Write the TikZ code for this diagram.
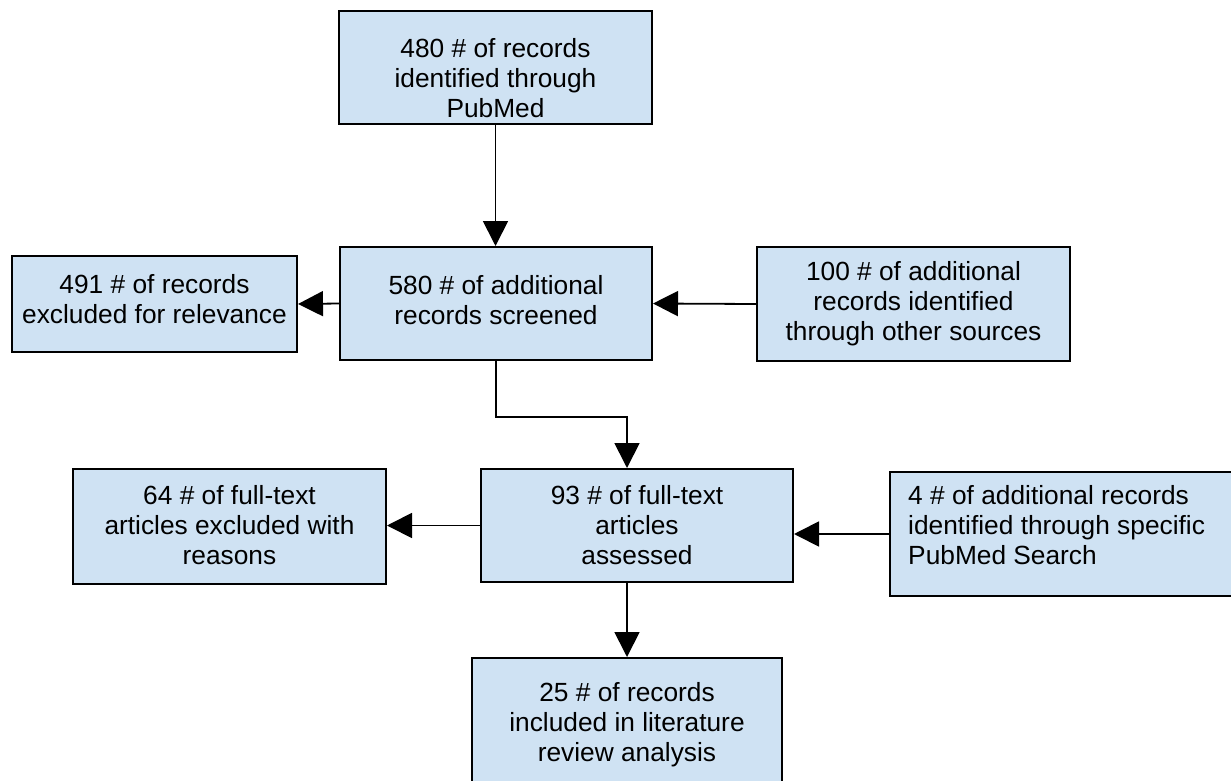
\documentclass[tikz,border=0pt]{standalone}
\usepackage{fontspec}
\setmainfont{Liberation Sans}
\usetikzlibrary{arrows.meta}
\definecolor{boxfill}{RGB}{207,226,243}
\tikzset{
  box/.style={draw=black, line width=2pt, fill=boxfill, inner sep=0pt},
  txt/.style={align=center, font=\fontsize{26.3}{30}\selectfont, inner sep=0pt},
  arr/.style={draw=black, line width=1.8pt, -{Triangle[length=25pt,width=25pt]}},
}
\begin{document}
\begin{tikzpicture}[x=1pt,y=-1pt]
\useasboundingbox (0,0) rectangle (1231,781);
\clip (0,0) rectangle (1231,781);
\fill[white] (0,0) rectangle (1231,781);
% boxes
\node[box, minimum width=313pt, minimum height=113pt] (b1) at (495.5,67.5) {};
\node[box, minimum width=285pt, minimum height=96pt] (b2) at (154.5,304) {};
\node[box, minimum width=312pt, minimum height=113pt] (b3) at (496,303.5) {};
\node[box, minimum width=313pt, minimum height=114pt] (b4) at (913.5,304) {};
\node[box, minimum width=313pt, minimum height=115pt] (b5) at (229.5,526.5) {};
\node[box, minimum width=312pt, minimum height=113pt] (b6) at (637,525.5) {};
\node[box, minimum width=350pt, minimum height=124pt] (b7) at (1065,534) {};
\node[box, minimum width=310pt, minimum height=142pt] (b8) at (627,729) {};
% texts
\node[txt] (t1) at (495.5,78) {480 \# of records\\identified through\\PubMed};
\node[txt] (t2) at (154.5,299) {491 \# of records\\excluded for relevance};
\node[txt] (t3) at (496,300) {580 \# of additional\\records screened};
\node[txt] (t4) at (913.5,304) {100 \# of additional\\records identified\\through other sources};
\node[txt] (t5) at (229.5,525) {64 \# of full-text\\articles excluded with\\reasons};
\node[txt] (t6) at (637,525) {93 \# of full-text\\articles\\assessed};
\node[txt, align=left, anchor=west] (t7) at (908,525) {4 \# of additional records\\identified through specific\\PubMed Search};
\node[txt] (t8) at (627,725) {25 \# of records\\included in literature\\review analysis};
% connectors
\draw[arr] (b1.south) -- (b1.south |- b3.north);
\draw[arr] (b3.west) -- (b2.east);
\draw[arr] (b4.west) -- (b3.east);
\draw[arr] (b3.south) -- ++(0,56) -| (b6.north -| b8.north);
\draw[arr] (b6.west) -- (b6.west -| b5.east);
\draw[arr] (b7.west) -- (b7.west -| b6.east);
\draw[arr] (b6.south -| b8.north) -- (b8.north);
\end{tikzpicture}
\end{document}
